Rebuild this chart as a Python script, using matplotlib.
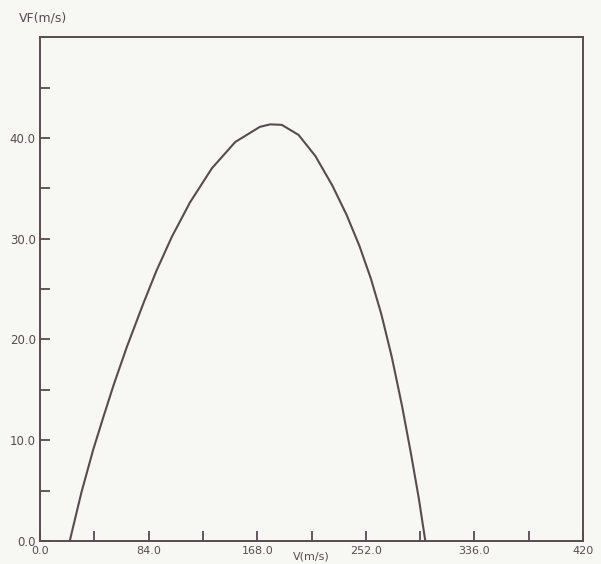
# VF(m/s) u ovisnosti o V(m/s) - iscrtavanje krivulje

import matplotlib.pyplot as plt

# Tocke ocitane s grafa
v_values = [23, 32, 41, 49, 57, 67, 80, 90, 102, 116, 133, 151, 170,
            178, 187, 200, 213, 226, 237, 247, 256, 264, 272, 280, 287,
            293, 298]
vf_values = [0.0, 4.8, 9.0, 12.3, 15.5, 19.2, 23.6, 26.8, 30.2, 33.6,
             37.0, 39.6, 41.1, 41.35, 41.3, 40.3, 38.2, 35.3, 32.4, 29.3,
             26.0, 22.5, 18.3, 13.4, 8.6, 4.2, 0.0]

x_major = [0, 84, 168, 252, 336, 420]
x_labels = ['0.0', '84.0', '168.0', '252.0', '336.0', '420']
x_minor = [42, 126, 210, 294, 378]
y_major = [0, 10, 20, 30, 40]
y_labels = ['0.0', '10.0', '20.0', '30.0', '40.0']
y_minor = [5, 15, 25, 35, 45]

ink = '#5a4a52'
paper = '#f7f7f4'

fig = plt.figure(figsize=(6.01, 5.64), dpi=100, facecolor=paper)
ax = fig.add_axes([0.0666, 0.041, 0.9035, 0.893], facecolor=paper)

ax.plot(v_values, vf_values, color=ink, linewidth=1.5,
        solid_joinstyle='round')

ax.set_xlim(0, 420)
ax.set_ylim(0, 50)
ax.set_xticks(x_major)
ax.set_xticklabels(x_labels)
ax.set_xticks(x_minor, minor=True)
ax.set_yticks(y_major)
ax.set_yticklabels(y_labels)
ax.set_yticks(y_minor, minor=True)

for s in ax.spines.values():
    s.set_color(ink)
    s.set_linewidth(1.4)

ax.tick_params(axis='both', which='both', direction='in', length=7,
               width=1.3, color=ink, labelcolor=ink)
ax.tick_params(axis='x', pad=4, labelsize=8)
ax.tick_params(axis='y', pad=3, labelsize=8.5)

# oznaka osi x malo nize od brojeva, kao na originalu
ax.set_xlabel('V(m/s)', color=ink, fontsize=8)
ax.xaxis.set_label_coords(0.5, -0.021)
ax.set_ylabel('VF(m/s)', color=ink, fontsize=9, rotation=0)
ax.yaxis.set_label_coords(0.005, 1.025)

fig.savefig('out.png', dpi=100, facecolor=paper)
